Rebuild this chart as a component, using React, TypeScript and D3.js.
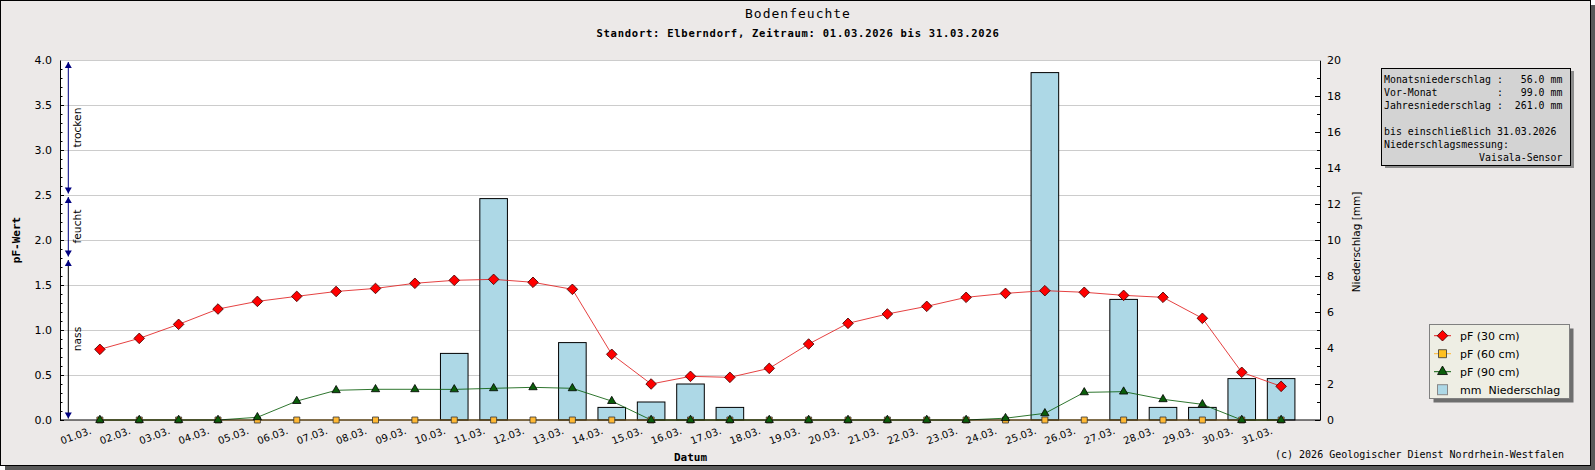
import React, { useEffect, useRef } from 'react';
import * as d3 from 'd3';

const WIDTH = 1595;
const HEIGHT = 470;

// plot area
const PL = 60.5;
const PR = 1320.5;
const PT = 60;
const PB = 420;

const dayLabels = [
  '01.03.', '02.03.', '03.03.', '04.03.', '05.03.', '06.03.', '07.03.', '08.03.',
  '09.03.', '10.03.', '11.03.', '12.03.', '13.03.', '14.03.', '15.03.', '16.03.',
  '17.03.', '18.03.', '19.03.', '20.03.', '21.03.', '22.03.', '23.03.', '24.03.',
  '25.03.', '26.03.', '27.03.', '28.03.', '29.03.', '30.03.', '31.03.',
];

const pf30 = [
  0.785, 0.907, 1.063, 1.233, 1.318, 1.374, 1.428, 1.462, 1.519, 1.552, 1.563,
  1.53, 1.452, 0.73, 0.4, 0.485, 0.474, 0.574, 0.844, 1.074, 1.178, 1.263,
  1.363, 1.407, 1.437, 1.419, 1.385, 1.363, 1.13, 0.53, 0.374,
];

const pf60 = [
  0, 0, 0, 0, 0, 0, 0, 0, 0, 0, 0, 0, 0, 0, 0, 0,
  0, 0, 0, 0, 0, 0, 0, 0, 0, 0, 0, 0, 0, 0, 0,
];

const pf90 = [
  0, 0, 0, 0, 0.03, 0.21, 0.33, 0.341, 0.341, 0.34, 0.352, 0.363, 0.352, 0.21,
  0, 0, 0, 0, 0, 0, 0, 0, 0, 0.02, 0.074, 0.307, 0.315, 0.23, 0.174, 0, 0,
];

// Niederschlag in mm
const rain = [
  0, 0, 0, 0, 0, 0, 0, 0, 0, 3.7, 12.3, 0, 4.3, 0.7, 1.0, 2.0,
  0.7, 0, 0, 0, 0, 0, 0, 0, 19.3, 0, 6.7, 0.7, 0.7, 2.3, 2.3,
];

const leftTicks = [0, 0.5, 1.0, 1.5, 2.0, 2.5, 3.0, 3.5, 4.0];
const rightTicks = [0, 2, 4, 6, 8, 10, 12, 14, 16, 18, 20];

const zones = [
  { label: 'trocken', from: 4.0, to: 2.5, line: '#000080' },
  { label: 'feucht', from: 2.5, to: 1.8, line: '#000080' },
  { label: 'nass', from: 1.8, to: 0, line: '#000' },
];

const infoLines = [
  'Monatsniederschlag :   56.0 mm',
  'Vor-Monat          :   99.0 mm',
  'Jahresniederschlag :  261.0 mm',
  '',
  'bis einschließlich 31.03.2026',
  'Niederschlagsmessung:',
  '                Vaisala-Sensor',
];

const legendItems = [
  { label: 'pF (30 cm)', kind: 'diamond' },
  { label: 'pF (60 cm)', kind: 'square' },
  { label: 'pF (90 cm)', kind: 'triangle' },
  { label: 'mm  Niederschlag', kind: 'bar' },
];

const RED = '#e02020';
const ORANGE = '#ffb833';
const GREEN = '#0b5e0b';
const BLUE_BAR = '#add8e6';
const BG = '#ece9e8';
const SANS = 'DejaVu Sans, sans-serif';
const MONO = 'DejaVu Sans Mono, monospace';

const x = d3.scaleLinear().domain([0, 32]).range([PL, PR]);
const yL = d3.scaleLinear().domain([0, 4]).range([PB, PT]);
const yR = d3.scaleLinear().domain([0, 20]).range([PB, PT]);

const diamond = d3.symbol(d3.symbolSquare, 56)() || '';
const square = d3.symbol(d3.symbolSquare, 36)() || '';
const triangle = d3.symbol(d3.symbolTriangle, 30)() || '';
const legSquare = d3.symbol(d3.symbolSquare, 64)() || '';
const legTriangle = d3.symbol(d3.symbolTriangle, 42)() || '';

const App = () => {
  const $left: any = useRef(null);
  const $leftMinor: any = useRef(null);
  const $right: any = useRef(null);
  const $rightMinor: any = useRef(null);
  const $bottom: any = useRef(null);

  useEffect(() => {
    const fmt = d3.format('.1f');
    d3.select($left.current)
      .call(
        d3.axisLeft(yL).tickValues(leftTicks).tickSizeInner(-4).tickSizeOuter(0)
          .tickPadding(8).tickFormat((d: any) => fmt(d)) as any,
      )
      .attr('font-size', 11)
      .attr('font-family', SANS);

    const minorL = yL.ticks(40).filter((v) => Math.abs(v * 2 - Math.round(v * 2)) > 1e-6);
    d3.select($leftMinor.current)
      .call(d3.axisLeft(yL).tickValues(minorL).tickSize(-2.5).tickFormat(() => '') as any)
      .call((g: any) => g.select('.domain').remove());

    d3.select($right.current)
      .call(
        d3.axisRight(yR).tickValues(rightTicks).tickSizeInner(-5).tickSizeOuter(0)
          .tickPadding(7) as any,
      )
      .attr('font-size', 11)
      .attr('font-family', SANS);

    const minorR = yR.ticks(20).filter((v) => v % 2 !== 0);
    d3.select($rightMinor.current)
      .call(d3.axisRight(yR).tickValues(minorR).tickSize(-3).tickFormat(() => '') as any)
      .call((g: any) => g.select('.domain').remove());

    d3.select($bottom.current)
      .call(
        d3.axisBottom(x).tickValues(d3.range(1, 32)).tickSize(0).tickSizeOuter(0)
          .tickFormat((d: any) => dayLabels[d - 1]) as any,
      )
      .attr('font-size', 10)
      .attr('font-family', SANS)
      .call((g: any) =>
        g.selectAll('.tick text')
          .attr('y', 0)
          .attr('dy', 0)
          .attr('text-anchor', 'end')
          .attr('transform', 'translate(-8,14) rotate(-20)'),
      );
  }, []);

  const line = d3.line<number>().x((d, i) => x(i + 1)).y((d) => yL(d));
  const barW = 27.6;
  const ax = 68.3;

  return (
    <div style={{ position: 'absolute', left: 0, top: 0 }}>
      <svg width={WIDTH} height={HEIGHT} viewBox={`0 0 ${WIDTH} ${HEIGHT}`} style={{ display: 'block' }}>
        {/* frame with shadow */}
        <rect x={5} y={5} width={1590} height={465} fill="#595959" />
        <rect x={0.5} y={0.5} width={1590} height={465} fill={BG} stroke="#000" />

        <text x={798} y={18.3} textAnchor="middle" fontFamily={MONO} fontSize={13} letterSpacing={1}>
          Bodenfeuchte
        </text>
        <text x={798} y={36.7} textAnchor="middle" fontFamily={MONO} fontWeight="bold" fontSize={10.5} letterSpacing={0.75}>
          Standort: Elberndorf, Zeitraum: 01.03.2026 bis 31.03.2026
        </text>

        {/* plot area */}
        <rect x={PL} y={PT} width={PR - PL} height={PB - PT} fill="#fff" />
        {leftTicks.filter((t) => t > 0).map((t) => (
          <line key={t} x1={PL} x2={PR} y1={Math.round(yL(t)) + 0.5} y2={Math.round(yL(t)) + 0.5} stroke="#cccccc" />
        ))}

        {/* bars */}
        {rain.map((v, i) =>
          v > 0 ? (
            <rect
              key={i}
              x={x(i + 1) - barW / 2}
              y={yR(v)}
              width={barW}
              height={PB - yR(v)}
              fill={BLUE_BAR}
              stroke="#000"
            />
          ) : null,
        )}

        {/* lines */}
        <path d={line(pf60) || ''} fill="none" stroke={ORANGE} strokeWidth={1} />
        <path d={line(pf90) || ''} fill="none" stroke={GREEN} strokeWidth={1} strokeOpacity={0.85} />
        <path d={line(pf30) || ''} fill="none" stroke={RED} strokeWidth={1} strokeOpacity={0.85} />

        {/* axes */}
        <g transform={`translate(${PL - 0.5},0)`} ref={$left} />
        <g transform={`translate(${PL - 0.5},0)`} ref={$leftMinor} />
        <g transform={`translate(${PR - 0.5},0)`} ref={$right} />
        <g transform={`translate(${PR - 0.5},0)`} ref={$rightMinor} />
        <g transform={`translate(-0.5,${PB - 0.5})`} ref={$bottom} />
        <line x1={PL} x2={PR} y1={PT + 0.5} y2={PT + 0.5} stroke="#cccccc" />

        {/* soil moisture zones */}
        {zones.map((z) => {
          const top = yL(z.from) + 2;
          const bot = yL(z.to) - 1.5;
          return (
            <g key={z.label}>
              <line x1={ax} x2={ax} y1={top} y2={bot} stroke={z.line} />
              <path d={`M${ax},${top}L${ax - 3.5},${top + 6}L${ax + 3.5},${top + 6}Z`} fill="#000080" />
              <path d={`M${ax},${bot}L${ax - 3.5},${bot - 6}L${ax + 3.5},${bot - 6}Z`} fill="#000080" />
              <text
                transform={`translate(80.5,${(yL(z.from) + yL(z.to)) / 2}) rotate(-90)`}
                textAnchor="middle"
                fontFamily={SANS}
                fontSize={10.7}
              >
                {z.label}
              </text>
            </g>
          );
        })}

        {/* markers */}
        {pf60.map((v, i) => (
          <path key={i} d={square} transform={`translate(${x(i + 1)},${yL(v)})`} fill={ORANGE} stroke="#333" strokeWidth={0.8} />
        ))}
        {pf90.map((v, i) => (
          <path key={i} d={triangle} transform={`translate(${x(i + 1)},${yL(v)})`} fill={GREEN} stroke="#000" strokeWidth={0.8} />
        ))}
        {pf30.map((v, i) => (
          <path key={i} d={diamond} transform={`translate(${x(i + 1)},${yL(v)}) rotate(45)`} fill="#ff0000" stroke="#400" strokeWidth={0.8} />
        ))}

        {/* axis titles */}
        <text transform="translate(19.5,240) rotate(-90)" textAnchor="middle" fontFamily={MONO} fontWeight="bold" fontSize={11}>
          pF-Wert
        </text>
        <text x={(PL + PR) / 2} y={461} textAnchor="middle" fontFamily={MONO} fontWeight="bold" fontSize={11}>
          Datum
        </text>
        <text transform="translate(1359.5,242) rotate(-90)" textAnchor="middle" fontFamily={SANS} fontSize={10.5}>
          Niederschlag [mm]
        </text>

        {/* info box */}
        <rect x={1385} y={71} width={189} height={97} fill="#8c8c8c" />
        <rect x={1381.5} y={68.5} width={189} height={97} fill="#d3d3d3" stroke="#000" />
        {infoLines.map((t, i) => (
          <text key={i} x={1384} y={82.7 + i * 13.1} fontFamily={MONO} fontSize={9.9} style={{ whiteSpace: 'pre' }}>
            {t}
          </text>
        ))}

        {/* legend */}
        <rect x={1433.5} y={328.5} width={140} height={74} fill="#6e6e6e" />
        <rect x={1429.5} y={324.5} width={140} height={74} fill="#eeeee4" stroke="#808080" />
        {legendItems.map((item, i) => {
          const cy = 335.7 + i * 18;
          const cx = 1442.5;
          return (
            <g key={item.label}>
              {item.kind === 'diamond' && (
                <>
                  <line x1={1434} x2={1451} y1={cy} y2={cy} stroke={RED} />
                  <path d={diamond} transform={`translate(${cx},${cy}) rotate(45)`} fill="#ff0000" stroke="#400" strokeWidth={0.8} />
                </>
              )}
              {item.kind === 'square' && (
                <>
                  <line x1={1434} x2={1451} y1={cy} y2={cy} stroke={ORANGE} />
                  <path d={legSquare} transform={`translate(${cx},${cy})`} fill="#ffc020" stroke="#333" strokeWidth={0.8} />
                </>
              )}
              {item.kind === 'triangle' && (
                <>
                  <line x1={1434} x2={1451} y1={cy} y2={cy} stroke={GREEN} />
                  <path d={legTriangle} transform={`translate(${cx},${cy})`} fill={GREEN} stroke="#000" strokeWidth={0.8} />
                </>
              )}
              {item.kind === 'bar' && (
                <rect x={cx - 5} y={cy - 5} width={10} height={10} fill={BLUE_BAR} stroke="#888" />
              )}
              <text x={1460} y={cy + 4} fontFamily={SANS} fontSize={11} style={{ whiteSpace: 'pre' }}>
                {item.label}
              </text>
            </g>
          );
        })}

        <text x={1275} y={458} fontFamily={MONO} fontSize={10} style={{ whiteSpace: 'pre' }}>
          (c) 2026 Geologischer Dienst Nordrhein-Westfalen
        </text>
      </svg>
    </div>
  );
};

export default App;
